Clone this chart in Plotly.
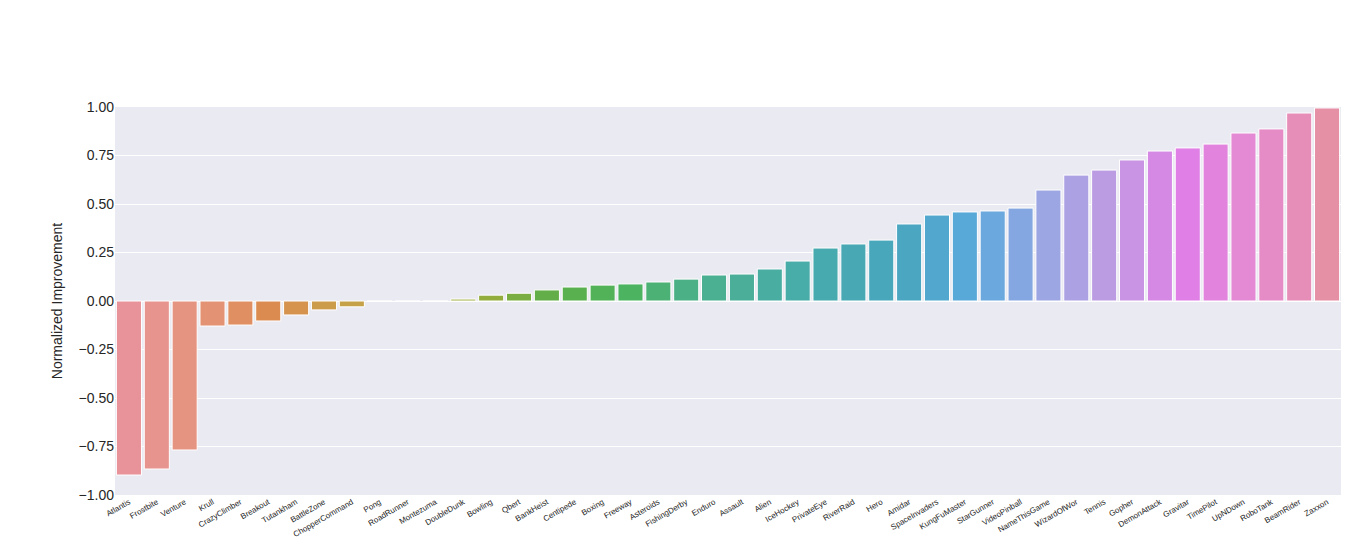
import plotly.graph_objects as go
from plotly.colors import sample_colorscale

games = ["Atlantis", "Frostbite", "Venture", "Krull", "CrazyClimber", "Breakout", "Tutankham",
         "BattleZone", "ChopperCommand", "Pong", "RoadRunner", "Montezuma", "DoubleDunk", "Bowling",
         "Qbert", "BankHeist", "Centipede", "Boxing", "Freeway", "Asteroids", "FishingDerby", "Enduro",
         "Assault", "Alien", "IceHockey", "PrivateEye", "RiverRaid", "Hero", "Amidar", "SpaceInvaders",
         "KungFuMaster", "StarGunner", "VideoPinball", "NameThisGame", "WizardOfWor", "Tennis", "Gopher",
         "DemonAttack", "Gravitar", "TimePilot", "UpNDown", "RoboTank", "BeamRider", "Zaxxon"]
improvement = [-0.897, -0.866, -0.768, -0.129, -0.124, -0.103, -0.072, -0.046, -0.03, 0.0, 0.0, 0.0,
               0.01, 0.03, 0.04, 0.057, 0.072, 0.082, 0.088, 0.098, 0.113, 0.134, 0.139, 0.165,
               0.206, 0.273, 0.294, 0.314, 0.397, 0.443, 0.459, 0.464, 0.479, 0.572, 0.649, 0.675,
               0.727, 0.773, 0.789, 0.809, 0.866, 0.887, 0.969, 0.995]

# approximate seaborn husl palette (desaturated) as a scale
anchors = ["#e8929a", "#e5957c", "#dc8b4f", "#c9a14a", "#b3a73a", "#9aad3a", "#5fae49", "#4cb35c",
           "#4cb08a", "#49ada0", "#47aab0", "#4aa6c0", "#5aa8dc", "#9aa7e3", "#c29ae3", "#e07fe6",
           "#e58bd0", "#e690a6"]
scale = [[i / (len(anchors) - 1), c] for i, c in enumerate(anchors)]
colors = sample_colorscale(scale, [i / (len(games) - 1) for i in range(len(games))])

fig = go.Figure(go.Bar(x=games, y=improvement, marker_color=colors,
                       marker_line_color="white", marker_line_width=1))
fig.update_layout(
    width=1369, height=559,
    margin=dict(l=107, r=36, t=99, b=72),
    plot_bgcolor="#eaeaf2", paper_bgcolor="white",
    bargap=0.1, showlegend=False,
    font=dict(family="Liberation Sans", color="#262626"),
)
fig.update_xaxes(tickangle=-30, tickfont=dict(size=8), showgrid=False, ticks="", automargin=False)
fig.update_yaxes(range=[-1, 1], tickvals=[-1, -0.75, -0.5, -0.25, 0, 0.25, 0.5, 0.75, 1],
                 tickformat=".2f", gridcolor="white", zeroline=False, tickfont=dict(size=14),
                 automargin=False, title=dict(text="Normalized Improvement", font=dict(size=14), standoff=12))
fig.write_html("out.html")
